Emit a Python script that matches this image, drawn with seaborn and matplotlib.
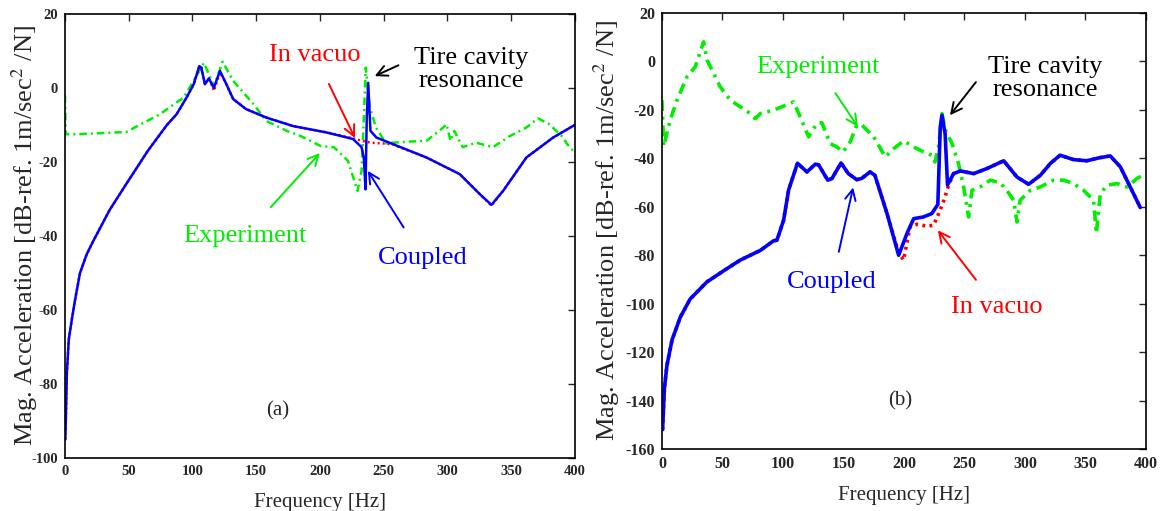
import pandas as pd
import seaborn as sns
import matplotlib
matplotlib.use("Agg")
import matplotlib.pyplot as plt

sns.set_style("white")
plt.rcParams["font.family"] = ["Liberation Serif", "DejaVu Serif"]
plt.rcParams["mathtext.fontset"] = "stix"
plt.rcParams["axes.unicode_minus"] = False

BLUE = "#0000FF"
RED = "#FF0000"
GREEN = "#00EE00"

# ---- panel (a) ----
a_cpl_f = [0.3, 1.0, 1.5, 3, 5.2, 7.8, 11.8, 17, 22, 35, 48, 65, 80, 87.6, 95.4, 101,
           105.4, 107, 109.8, 112.9, 116.8, 121.6, 126, 132, 142, 158, 179, 205, 226,
           232.7, 234.5, 235.8, 236.8, 237.9, 239.7, 244.4, 257.5, 283.7, 309.8, 325.5,
           334.6, 343.8, 362, 383, 400]
a_cpl_db = [-95, -85, -77, -68, -63, -57.5, -50, -45, -41.5, -33, -26, -17, -10, -7.1, -2.6, 1,
            5.9, 5.5, 1.0, 2.6, 0, 4.6, 1.5, -3, -5.7, -8, -10.3, -12, -13.8,
            -16, -19, -27.4, -8, 1.4, -11.6, -13.4, -15.2, -18.8, -23.3, -28.7,
            -31.6, -27.8, -18.8, -13.4, -10]

a_vac_f = [0.3, 1.0, 1.5, 3, 5.2, 7.8, 11.8, 17, 22, 35, 48, 65, 80, 87.6, 95.4, 101,
           105.4, 107, 109.8, 112.9, 117, 121.6, 126, 132, 142, 158, 179, 205, 226,
           232, 240, 250, 257.5, 283.7, 309.8, 325.5, 334.6, 343.8, 362, 383, 400]
a_vac_db = [-95, -85, -77, -68, -63, -57.5, -50, -45, -41.5, -33, -26, -17, -10, -7.1, -2.6, 1,
            5.9, 5.5, 1.0, 2.6, -0.8, 4.2, 1.5, -3, -5.7, -8, -10.3, -12, -13.6,
            -14.2, -14.8, -15.0, -15.3, -18.8, -23.3, -28.7, -31.8, -27.8, -18.8, -13.4, -10]

a_exp_f = [0, 0.6, 9, 22, 48, 74.5, 93, 101, 109, 117, 123.7, 132, 148, 158, 174, 185,
           200.7, 211, 222, 229.6, 232.7, 234.5, 236, 239.3, 244, 252, 257, 270, 283.7,
           296.8, 299.4, 302.5, 305.5, 312, 322.7, 335.8, 349, 362, 371, 380, 391, 393.6, 400]
a_exp_db = [-2, -12.5, -12.5, -12.3, -11.9, -7.1, -2.6, 1.9, 6.8, 0.5, 7.1, 1.9, -4.4, -8.9,
            -11.6, -13, -15.7, -16, -19.7, -27.8, -22.4, -8, 5.5, -5.3, -10.7, -15, -14.8,
            -14.5, -14.3, -10.7, -9.8, -14.3, -11.6, -16, -14.8, -16, -13, -10.7, -8.2,
            -9.8, -13.4, -15, -17.5]

# ---- panel (b) ----
b_cpl_f = [0.5, 2, 4.1, 8.3, 15.2, 23.4, 37.2, 51, 64.7, 81.3, 92.3, 95, 100.5, 104.7, 112,
           119.8, 126.7, 129.5, 137, 140.5, 148, 154, 161, 165, 172, 176, 186, 195.6,
           202.5, 208, 216, 223, 228, 230, 231.4, 234, 236, 241, 246.6, 257.6, 268.6,
           282.4, 293.4, 303, 312.7, 321, 329, 340, 351, 362, 370.5, 378.8, 387, 395.3]
b_cpl_db = [-152, -135, -125.5, -115, -105.5, -98, -91, -86.4, -82, -78, -74, -73.8, -65.6,
            -53, -42, -45.6, -42.4, -42.7, -49, -48.3, -41.9, -46.3, -48.8, -48.3, -45.6,
            -47, -62.8, -80, -71, -64.9, -64.2, -62.8, -59, -27, -22.2, -29.8, -51, -46.3,
            -45.2, -46.3, -44.2, -41, -47.7, -50.7, -47, -42.1, -38.7, -40.5, -41, -39.7,
            -39, -43.5, -51.8, -60.3]

b_vac_f = [0.5, 2, 4.1, 8.3, 15.2, 23.4, 37.2, 51, 64.7, 81.3, 92.3, 95, 100.5, 104.7, 112,
           119.8, 126.7, 129.5, 137, 140.5, 148, 154, 161, 165, 172, 176, 186, 195.6,
           199.7, 205, 210.7, 219, 224.5, 228.7, 233, 237, 241, 246.6, 257.6, 268.6,
           282.4, 293.4, 303, 312.7, 321, 329, 340, 351, 362, 370.5, 378.8, 387, 395.3]
b_vac_db = [-152, -135, -125.5, -115, -105.5, -98, -91, -86.4, -82, -78, -74, -73.8, -65.6,
            -53, -42, -45.6, -42.4, -42.7, -49, -48.3, -41.9, -46.3, -48.8, -48.3, -45.6,
            -47, -62.8, -79, -82, -68.3, -67.2, -68, -67.6, -62.8, -57.3, -51, -46.3,
            -45.2, -46.3, -44.2, -41, -47.7, -50.7, -47, -42.1, -38.7, -40.5, -41, -39.7,
            -39, -43.5, -51.8, -60.3]

b_exp_f = [0, 1.4, 6.9, 12.4, 20.7, 27.5, 34.4, 37.2, 40, 48.2, 56.5, 64.7, 73, 77, 81.3,
           92.3, 108.8, 114.3, 121.2, 128, 132.2, 139, 144.6, 149.6, 155.6, 161, 165.3,
           175, 184.6, 191.5, 199.7, 208, 216, 223, 225.6, 228.6, 231.4, 234.2, 239.7,
           245, 249.3, 253.4, 256.2, 263, 271.3, 279.6, 285, 290.6, 293.4, 296, 304.4,
           312.7, 323.7, 332, 340, 348.5, 356.7, 359, 362.3, 368, 376, 384.3, 392.6, 400]
b_exp_db = [-16, -35, -24, -16, -6.3, -2.2, 8.1, 0.6, -2.2, -10.5, -16, -18.7, -21.5, -23.6,
            -21.5, -20.1, -16.7, -22.9, -31.1, -25.6, -25.3, -33.9, -35.3, -37.3, -33.2,
            -26.3, -26.3, -31.1, -39.4, -36, -32.8, -35.3, -37.3, -38.7, -41.5, -35.3,
            -21.5, -28.4, -33.9, -42, -51.8, -64.2, -53.2, -51.8, -49, -50.1, -53.2, -57.3,
            -66.3, -57.3, -53.2, -51.8, -49, -49, -50.4, -53.2, -57.3, -71, -54.5, -51.1,
            -50.4, -51.8, -48.3, -46.3]

YLABEL = "Mag. Acceleration [dB-ref. 1m/sec$^{2}$ /N]"

fig = plt.figure(figsize=(11.64, 5.11), dpi=100)
ax1 = fig.add_axes([0.0558, 0.1037, 0.438, 0.869])
ax2 = fig.add_axes([0.5687, 0.1213, 0.4158, 0.8532])


def draw(ax, exp, vac, cpl, lw):
    sns.lineplot(x=exp[0], y=exp[1], ax=ax, color=GREEN, lw=lw,
                 linestyle=(0, (3, 1.6, 0.8, 1.6)), sort=False, estimator=None)
    sns.lineplot(x=vac[0], y=vac[1], ax=ax, color=RED, lw=lw, linestyle=(0, (0.8, 1.2)),
                 sort=False, estimator=None)
    sns.lineplot(x=cpl[0], y=cpl[1], ax=ax, color=BLUE, lw=lw,
                 sort=False, estimator=None)


draw(ax1, (a_exp_f, a_exp_db), (a_vac_f, a_vac_db), (a_cpl_f, a_cpl_db), 1.8)
draw(ax2, (b_exp_f, b_exp_db), (b_vac_f, b_vac_db), (b_cpl_f, b_cpl_db), 2.6)

for ax, ylim, tsize, lpad in [(ax1, (-100, 20), 10.5, 11), (ax2, (-160, 20), 11.5, 10)]:
    ax.set_xlim(0, 400)
    ax.set_ylim(*ylim)
    ax.set_xticks(range(0, 401, 50))
    ax.set_yticks(range(ylim[0], ylim[1] + 1, 20))
    ax.tick_params(direction="in", top=True, right=True, length=5, width=1,
                   labelsize=tsize, pad=5)
    for lab in ax.get_xticklabels() + ax.get_yticklabels():
        lab.set_fontweight("bold")
    for s in ax.spines.values():
        s.set_linewidth(1.2)
        s.set_color("black")
    ax.set_xlabel("Frequency [Hz]", fontsize=15, labelpad=lpad)
    ax.set_ylabel(YLABEL, fontsize=19)

ax1.yaxis.set_label_coords(-0.049, 0.5)
ax2.yaxis.set_label_coords(-0.083, 0.5)

ap = dict(arrowstyle="->", lw=1.4)
fs = 19

# annotations (a)
ax1.annotate("In vacuo", xy=(227.5, -13.5), xytext=(196, 9), color=RED, fontsize=fs,
             ha="center", va="center", arrowprops=dict(ap, color=RED, shrinkA=12, shrinkB=0))
ax1.annotate("Tire cavity\nresonance", xy=(243, 3.2), xytext=(319, 5), color="black",
             fontsize=fs, ha="center", va="center", linespacing=1.1,
             arrowprops=dict(ap, color="black", relpos=(0, 0.75), shrinkA=10, shrinkB=0))
ax1.annotate("Experiment", xy=(200, -17.6), xytext=(141, -40), color=GREEN, fontsize=fs,
             ha="center", va="center", arrowprops=dict(ap, color=GREEN, shrinkA=14, shrinkB=0))
ax1.annotate("Coupled", xy=(237.6, -22.4), xytext=(281, -46), color=BLUE, fontsize=fs,
             ha="center", va="center", arrowprops=dict(ap, color=BLUE, shrinkA=14, shrinkB=0))
ax1.text(167, -87.3, "(a)", fontsize=15, ha="center", va="center")

# annotations (b)
ax2.annotate("Experiment", xy=(162, -27), xytext=(129, -2.4), color=GREEN, fontsize=fs,
             ha="center", va="center", arrowprops=dict(ap, color=GREEN, shrinkA=10, shrinkB=0))
ax2.annotate("Tire cavity\nresonance", xy=(238, -22.2), xytext=(316.5, -7), color="black",
             fontsize=fs, ha="center", va="center", linespacing=1.1,
             arrowprops=dict(ap, color="black", relpos=(0, 0.75), shrinkA=10, shrinkB=0))
ax2.annotate("Coupled", xy=(158, -52), xytext=(140.5, -91.2), color=BLUE, fontsize=fs,
             ha="center", va="center", arrowprops=dict(ap, color=BLUE, shrinkA=12, shrinkB=0))
ax2.annotate("In vacuo", xy=(228, -69.7), xytext=(277, -101.5), color=RED, fontsize=fs,
             ha="center", va="center", arrowprops=dict(ap, color=RED, shrinkA=12, shrinkB=0))
ax2.text(196.7, -140, "(b)", fontsize=15, ha="center", va="center")

fig.savefig("out.png", dpi=100)
